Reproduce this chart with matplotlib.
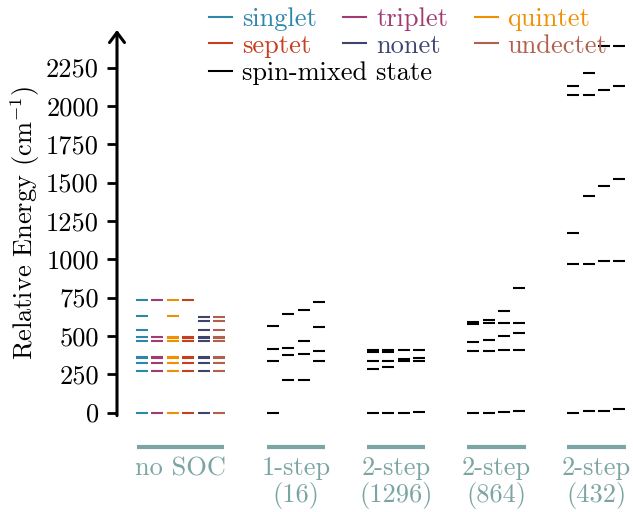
import matplotlib
matplotlib.use("Agg")
import matplotlib.pyplot as plt
from matplotlib.lines import Line2D
import matplotlib.transforms as mtransforms

plt.rcParams['font.family'] = 'serif'
plt.rcParams['font.serif'] = ['cmr10']
plt.rcParams['mathtext.fontset'] = 'cm'
plt.rcParams['axes.formatter.use_mathtext'] = True

# ---- data ----
multiplicities = ["singlet", "triplet", "quintet", "septet", "nonet", "undectet"]
mult_colors = ["#2E86AB", "#A23B72", "#F18F01", "#C73E1D", "#3D4470", "#B0604D"]

singlet = [0, 272, 326, 354, 365, 468, 491, 541, 628, 732]
triplet = [0, 272, 326, 354, 365, 468, 491, 732]
quintet = [0, 272, 326, 354, 365, 468, 486, 493, 628, 732]
septet = [0, 272, 326, 354, 365, 468, 486, 493, 732]
nonet = [0, 272, 326, 354, 365, 466, 487, 493, 541, 596, 624]
undectet = [0, 272, 326, 354, 365, 466, 487, 493, 541, 594, 622]
no_soc = [singlet, triplet, quintet, septet, nonet, undectet]

one_step_16 = [[0, 333, 417, 563],
               [209, 378, 424, 641],
               [209, 383, 468, 672],
               [333, 400, 556, 724]]
two_step_1296 = [[0, 285, 339, 393, 409],
                 [0, 294, 339, 393, 409],
                 [0, 333, 347, 409],
                 [4, 333, 354, 409]]
two_step_864 = [[0, 404, 463, 580, 590],
                [0, 404, 470, 582, 604],
                [5, 406, 500, 582, 661],
                [8, 406, 522, 585, 811]]
two_step_432 = [[0, 972, 1172, 2071, 2131],
                [7, 972, 1414, 2071, 2217],
                [7, 989, 1480, 2103, 2389],
                [20, 989, 1524, 2131, 2389]]
soc_groups = [one_step_16, two_step_1296, two_step_864, two_step_432]

group_labels = ["no SOC", "1-step\n(16)", "2-step\n(1296)", "2-step\n(864)", "2-step\n(432)"]
yticks = [0, 250, 500, 750, 1000, 1250, 1500, 1750, 2000, 2250]
mixed_label = "spin-mixed state"

# ---- layout ----
group_centers = [2.5, 10.0, 16.5, 23.0, 29.5]
group_halfspan = [2.85, 1.9, 1.9, 1.9, 1.9]
bar_half = 0.39
lw_level = 1.5
label_color = "#7BA5A2"
fs = 19

fig = plt.figure(figsize=(6.33, 5.12), dpi=100)
ax = fig.add_axes([117 / 633, 96.4 / 512, 510 / 633, 385.6 / 512])
ax.set_xlim(-1.623, 31.49)
ax.set_ylim(-20, 2495)

# no SOC columns
for i, (levels, col) in enumerate(zip(no_soc, mult_colors)):
    x = group_centers[0] - 2.5 + i
    ax.hlines(levels, x - bar_half, x + bar_half, colors=col, lw=lw_level, clip_on=False)

# SOC columns
for g, grp in enumerate(soc_groups):
    for j, levels in enumerate(grp):
        x = group_centers[g + 1] - 1.5 + j
        ax.hlines(levels, x - bar_half, x + bar_half, colors="black", lw=lw_level, clip_on=False)

# axes styling
for s in ["top", "right", "bottom", "left"]:
    ax.spines[s].set_visible(False)
ax.annotate("", xy=(0, 1), xytext=(0, 0), xycoords="axes fraction",
            arrowprops=dict(arrowstyle="->, head_length=0.4, head_width=0.3",
                            lw=2.2, color="black", shrinkA=0, shrinkB=0,
                            mutation_scale=18), annotation_clip=False)
ax.set_yticks(yticks)
ax.set_yticklabels([str(t) for t in yticks])
ax.tick_params(axis="y", length=7, width=2, labelsize=fs, pad=6)
ax.set_xticks([])
ax.set_ylabel(r"Relative Energy (cm$^{-1}$)", fontsize=fs, labelpad=3)

# group labels
trans = mtransforms.blended_transform_factory(ax.transData, ax.transAxes)
for c, h, lab in zip(group_centers, group_halfspan, group_labels):
    ax.plot([c - h, c + h], [-0.0814, -0.0814], transform=trans, color=label_color,
            lw=3, clip_on=False, solid_capstyle="butt")
    ax.text(c, -0.106, lab, transform=trans, ha="center", va="top",
            fontsize=fs, color=label_color, linespacing=1.1)

# legend: multiplicities (2 rows x 3 columns)
order = [0, 3, 1, 4, 2, 5]
handles = [Line2D([], [], color=mult_colors[i], lw=1.5) for i in order]
labels = [multiplicities[i] for i in order]
leg_kw = dict(frameon=False, fontsize=fs, handlelength=0.87, handletextpad=0.38,
              columnspacing=1.0, labelspacing=0.1, borderpad=0, borderaxespad=0,
              loc="upper left")
leg = fig.legend(handles, labels, ncol=3, bbox_to_anchor=(209 / 633, 1 - 7.5 / 512), **leg_kw)
for t, h in zip(leg.get_texts(), handles):
    t.set_color(h.get_color())

# legend: spin-mixed state
h_mixed = Line2D([], [], color="black", lw=1.5)
leg2 = fig.legend([h_mixed], [mixed_label], bbox_to_anchor=(209 / 633, 1 - 61.5 / 512), **leg_kw)

fig.savefig("out.png", dpi=100)
